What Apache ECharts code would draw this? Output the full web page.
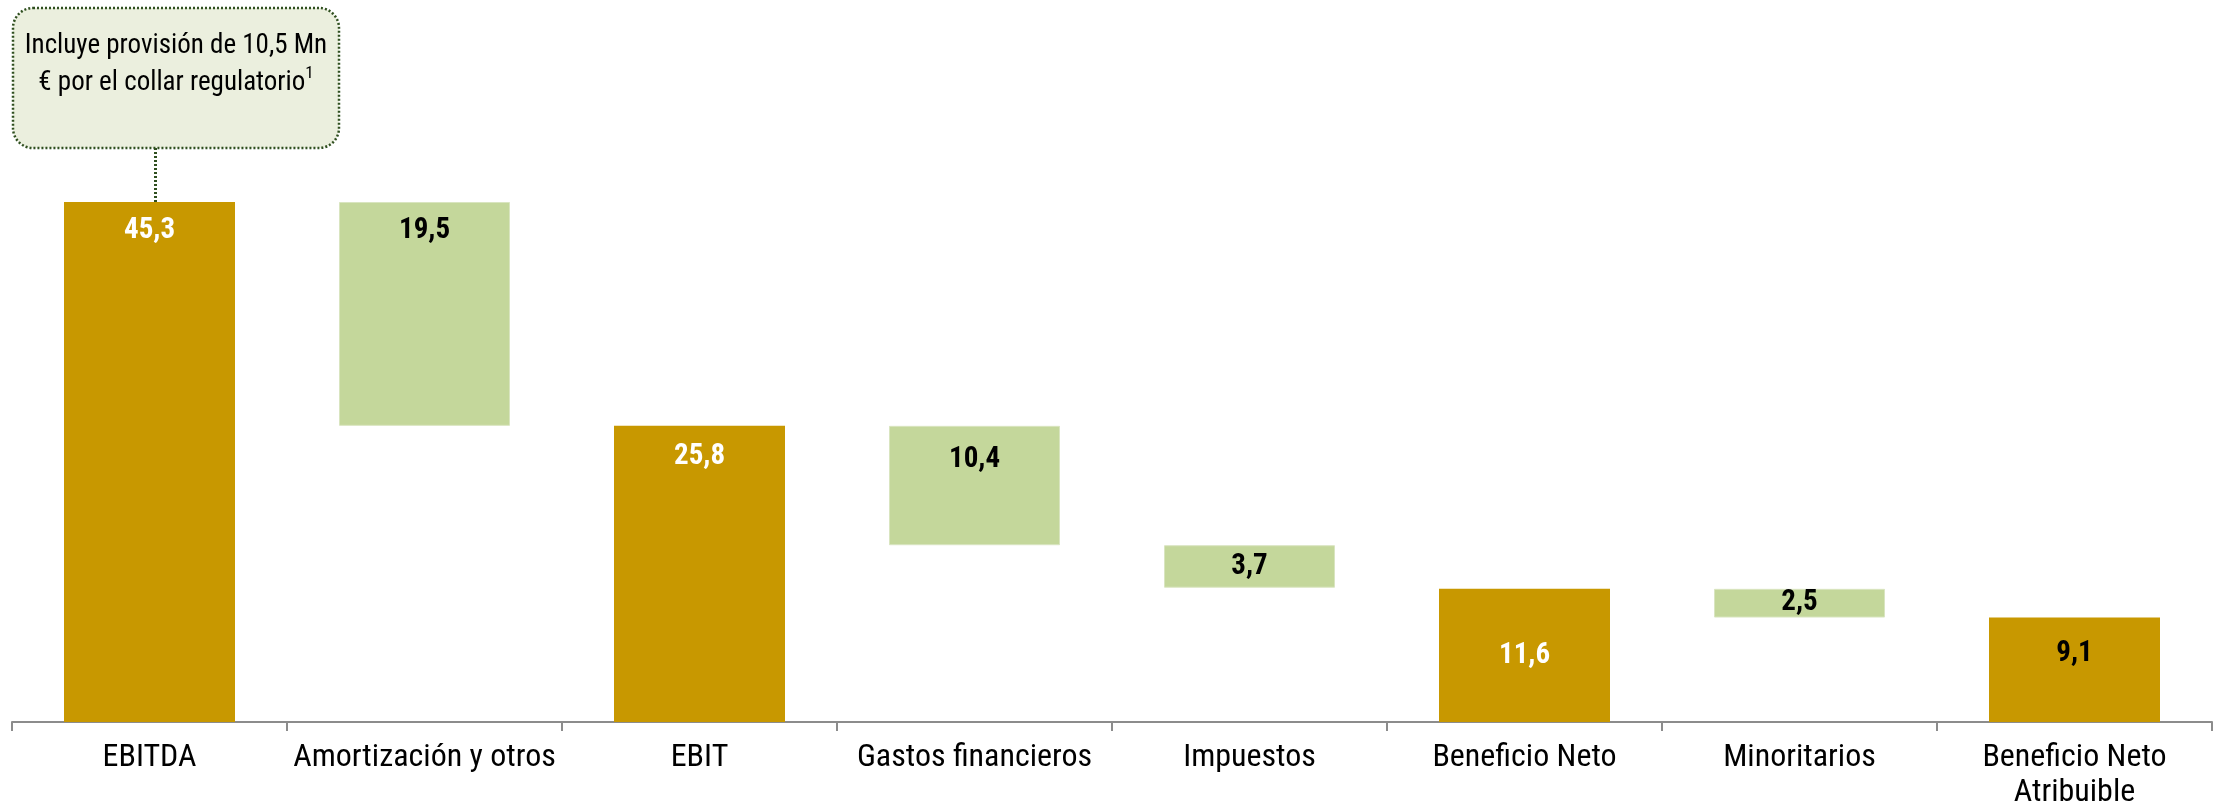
<!DOCTYPE html>
<html>
<head>
<meta charset="utf-8">
<script src="https://cdn.jsdelivr.net/npm/echarts@6/dist/echarts.min.js"></script>
<style>
html,body{margin:0;padding:0;background:#fff;}
#chart{width:2215px;height:804px;}
</style>
</head>
<body>
<div id="chart"></div>
<script>
// ---- DATA ----
const categories = ['EBITDA', 'Amortización y otros', 'EBIT', 'Gastos financieros', 'Impuestos', 'Beneficio Neto', 'Minoritarios', 'Beneficio Neto\nAtribuible'];
const totals = [45.3, null, 25.8, null, null, 11.6, null, 9.1];
const decreases = [null, 19.5, null, 10.4, 3.7, null, 2.5, null];
const calloutLines = ['Incluye provisión de 10,5 Mn', '€ por el collar regulatorio'];
const calloutNote = '1';

// ---- STYLE ----
const FONT = '"Roboto Condensed", "Liberation Sans Narrow", "Arial Narrow", sans-serif';
const GOLD = '#C89800';
const GREEN = '#C4D79B';
const labelPos = ['insideTop', 'insideTop', 'insideTop', 'insideTop', 'inside', 'inside', 'inside', 'insideTop'];
const labelDist = [14, 14, 16, 19, 0, 0, 0, 22];
const labelColor = ['#fff', '#000', '#fff', '#000', '#000', '#fff', '#000', '#000'];

// invisible base for the waterfall, derived from the data
const base = [];
let running = 0;
for (let i = 0; i < categories.length; i++) {
  if (totals[i] != null) { running = totals[i]; base.push(0); }
  else { running = running - decreases[i]; base.push(running); }
}
const fmt = v => v.toFixed(1).replace('.', ',');
function mk(arr) {
  return arr.map((v, i) => v == null ? '-' : ({
    value: v,
    label: {
      show: true, position: labelPos[i], distance: labelDist[i],
      color: labelColor[i], fontFamily: FONT, fontWeight: 'bold', fontSize: 29,
      formatter: () => fmt(v)
    }
  }));
}

const chart = echarts.init(document.getElementById('chart'), null, {renderer: 'canvas'});
const option = {
  animation: false,
  backgroundColor: '#fff',
  grid: {left: 12, right: 3, top: 202, bottom: 82, containLabel: false, outerBoundsMode: 'none'},
  xAxis: {
    type: 'category', data: categories,
    axisLine: {lineStyle: {color: '#8C8C8C', width: 2}},
    axisTick: {show: true, length: 9, lineStyle: {color: '#8C8C8C', width: 2}},
    axisLabel: {color: '#000', fontFamily: FONT, fontSize: 32, lineHeight: 35, margin: 18, interval: 0}
  },
  yAxis: {type: 'value', min: 0, max: 45.3, show: false, splitLine: {show: false}},
  series: [
    {type: 'bar', stack: 'w', data: base, barWidth: 171, itemStyle: {color: 'transparent'}, silent: true},
    {type: 'bar', stack: 'w', data: mk(totals), barWidth: 171, itemStyle: {color: GOLD}},
    {type: 'bar', stack: 'w', data: mk(decreases), barWidth: 171, itemStyle: {color: GREEN, borderColor: '#D9E5C0', borderWidth: 1}}
  ]
};
chart.setOption(option);

// callout annotation
const barTop = chart.convertToPixel({xAxisIndex: 0, yAxisIndex: 0}, [0, totals[0]]);
chart.setOption({
  graphic: [
    {type: 'line', shape: {x1: barTop[0] + 6, y1: 148, x2: barTop[0] + 6, y2: barTop[1]},
     style: {stroke: '#2F4F1F', lineWidth: 3, lineDash: [2, 2]}, z: 10},
    {type: 'rect', shape: {x: 13, y: 8, width: 326, height: 140, r: 20},
     style: {fill: '#EBEFDE', stroke: '#2F4F1F', lineWidth: 2.5, lineDash: [2, 2]}, z: 10},
    {type: 'text', x: 176, y: 28, z: 11,
     style: {
       text: '{a|' + calloutLines[0] + '}\n{a|' + calloutLines[1] + '}{s|' + calloutNote + '}',
       align: 'center', verticalAlign: 'top',
       rich: {
         a: {fontFamily: FONT, fontSize: 27, lineHeight: 37, fill: '#000'},
         s: {fontFamily: FONT, fontSize: 17, lineHeight: 37, fill: '#000', verticalAlign: 'top', padding: [0, 0, 14, 0]}
       }
     }}
  ]
});
</script>
</body>
</html>
